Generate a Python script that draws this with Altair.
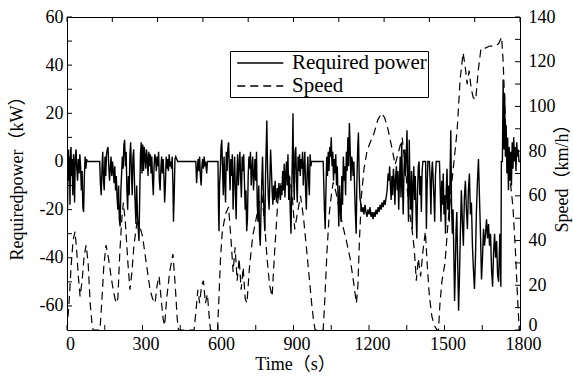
import altair as alt
import pandas as pd

# ---- data ----
power_time = [
    0, 2, 4, 6, 8, 10, 12, 14, 16, 18, 20, 23, 26, 28, 30, 33, 36, 39, 42, 45, 48, 51, 54, 57, 60, 63, 66, 69, 72, 75, 78, 80, 130,
    133, 136, 139, 142, 145, 148, 151, 154, 157, 160, 163, 166, 169, 172, 175, 178, 181, 184, 187, 190, 193, 196, 199, 202, 205, 208,
    211, 214, 217, 220, 223, 226, 229, 232, 235, 238, 241, 244, 247, 250, 253, 256, 259, 262, 265, 268, 271, 274, 277, 280, 283, 286,
    289, 292, 295, 298,
    301, 304, 307, 310, 313, 316, 319, 322, 325, 328, 331, 334, 337, 340, 343, 346, 349, 352, 355, 358, 361, 364, 367, 370, 373, 376,
    379, 382, 385, 388, 391, 394, 397, 400, 403, 406, 409, 412, 415, 418, 421, 423, 426, 429, 432, 436, 440,
    512, 515, 518, 521, 524, 527, 530, 533, 536, 539, 542, 545, 548, 551, 555, 558, 598,
    600, 602, 604, 606, 609, 612, 615, 618, 621, 624, 627, 630, 633, 636, 639, 642, 645, 648, 651, 654, 657, 660, 663, 666, 669, 672,
    675, 678, 681, 684, 687, 690, 693, 696, 699, 702, 705, 708, 711, 714, 717, 720, 723, 726, 729, 732, 735, 738, 741, 744, 747, 750,
    753, 756, 759, 762, 765, 768, 771, 774, 777, 780, 783, 786, 789, 792, 794, 797, 800, 803, 806, 809, 812, 815,
    818, 821, 824, 827, 830, 833, 836, 839, 842, 845, 848, 851, 854, 857, 860, 863, 866, 869, 872, 875, 878, 881, 884, 887, 890, 893,
    896, 898, 900,
    903, 906, 909, 912, 915, 918, 921, 924, 927, 930, 933, 936, 939, 942, 945, 948, 951, 954, 957, 960, 963, 966, 969, 972, 1018,
    1020, 1023, 1026, 1029, 1032, 1035, 1038, 1041, 1044, 1047, 1050, 1053, 1056, 1059, 1062, 1065, 1068, 1071, 1074, 1077, 1080,
    1083, 1086, 1089, 1092, 1095, 1098, 1101, 1104, 1107, 1110, 1113, 1116, 1119, 1122, 1125, 1128, 1131, 1134, 1137, 1140, 1143,
    1146, 1149, 1152, 1155, 1158, 1161, 1164,
    1168, 1172, 1176, 1180, 1184, 1188, 1192, 1196, 1200, 1204, 1208, 1212, 1216, 1220, 1224, 1228, 1232, 1236, 1240, 1244, 1248,
    1252, 1256, 1260, 1264, 1268, 1272, 1276, 1279, 1282,
    1285, 1288, 1291, 1294, 1297, 1300, 1303, 1306, 1309, 1312, 1315, 1318, 1321, 1324, 1327, 1330, 1333, 1336, 1339, 1342, 1345,
    1348, 1351, 1354, 1357, 1360, 1363, 1366, 1369, 1372, 1375, 1378, 1381, 1384, 1387, 1390, 1393, 1396, 1399, 1402, 1405, 1408,
    1411, 1414, 1425, 1428, 1431, 1434, 1440, 1443, 1446, 1449, 1452, 1458, 1461, 1464, 1467, 1480,
    1483, 1486, 1489, 1492, 1495, 1498, 1501, 1504, 1507, 1510, 1513, 1516, 1519, 1522, 1525, 1528, 1531, 1534, 1537, 1540, 1543,
    1546, 1549, 1552, 1556, 1559,
    1563, 1567, 1571, 1575, 1579, 1583, 1587, 1591, 1595, 1599, 1603, 1607, 1611, 1615, 1619, 1623, 1627, 1631, 1635, 1639, 1643,
    1647, 1651, 1655, 1659, 1663, 1667, 1671, 1675, 1679, 1683, 1687, 1691, 1695, 1699, 1703, 1707, 1711, 1715, 1720, 1724,
    1726, 1730, 1733, 1736, 1739, 1742, 1745, 1748, 1751, 1754, 1757, 1760, 1763, 1766, 1769, 1772, 1775, 1778, 1781, 1784, 1787,
    1790, 1793, 1796, 1800,
]
power_kw = [
    0, -20, -3, 5, -8, 2, -18, 4, 6, -6, 1, -14, 3, -4, -17, 2, 5, -3, -8, 1, -5, 3, -2, -12, -4, -19, -21, -6, 2, -3, 1, 0, 0,
    -10, -14, -3, 4, -8, -12, 2, -6, 3, 5, 6, -2, -8, -3, 2, -6, 0, -4, -9, -2, -12, -6, -15, -20, -10, -24,
    -27, -12, -5, 2, -3, 7, 9, -2, 4, -12, -20, -6, -14, 3, 8, -4, -14, 2, 5, -8, -18, -26, -10, -22, -28, -33,
    -14, 3, 8, -5,
    7, -4, 6, 2, -3, 5, 1, -6, 4, -2, 3, -5, 2, -8, -14, -2, 3, 1, -4, 2, -2, 4, -8, -12, -3, 2,
    -5, 1, -6, -17, -10, 2, -3, 1, -4, 3, -2, 0, -3, 2, -10, -25, -14, 1, 2, 1, 0,
    0, -9, -3, 1, -4, 2, -6, -10, -2, 1, -3, 2, -2, 0, -5, 0, 0,
    0, -20, -29, -10, -4, 6, 9, -3, -14, 2, -8, -17, 4, -4, 5, 8, -2, -12, 1, -6, 3, -20, -8, 2, -12, -24,
    -6, 3, -10, -2, 4, -7, -15, 2, -4, 3, -8, -20, -12, -29, -24, -6, 2, -3, 4, -10, -3, 2, -12, -6, 1, -8,
    4, -18, -25, -10, -30, -35, -20, -8, 2, -12, -22, -29, -5, 8, 17, -4, -15, -20, -8, 5, -3, -12,
    -18, -10, -16, -8, -14, -17, -11, -15, -9, -13, -16, -10, -14, -4, -12, -1, -15, -6, 0, -10, 3, -16, -6, -20, -30, -12,
    5, 20, -5,
    -16, 4, 6, -8, -17, 2, -4, 3, -6, 1, -3, 4, -10, -2, 4, -12, -20, -5, 2, -8, -14, 3, -2, 0, 0,
    -8, -20, -28, -12, 2, -6, 4, -4, 6, 2, 10, -2, 4, -8, 1, -5, 3, -10, -2, -15, -27,
    -10, -20, -25, -6, -18, 2, -8, -2, -14, 4, -4, 10, -2, 16, 6, -8, 2, 0, -6, 0, -12,
    -22, -30, -8, 5, 12, -6, -15,
    -18, -21, -19, -22, -18, -21, -23, -20, -22, -19, -23, -21, -24, -21, -23, -20, -22, -19, -21, -18, -20,
    -17, -19, -16, -18, -15, -12, -5, -8, -2,
    -10, -16, -6, -14, -3, -8, -18, -6, -2, -12, -4, -20, -8, 2, -15, 8, -10, -22, -4, 5, -6,
    2, 13, -8, -25, 9, -12, -20, -4, -28, -10, -2, -16, -6, -22, -32, -12, -2, 0, -14, -6, -21,
    -4, 0, 0, -28, -10, 0, 0, -8, -22, -5, 0, -15, -25, -6, 0, 0,
    -12, -25, -8, -18, -5, -22, -14, -30, -12, -3, -20, -10, -25, -6, 13, -18, -30, -20, -38, -58, -45,
    -28, -21, -40, -62, -50,
    -30, -12, -25, -35, -15, -8, -20, -28, -12, -5, -22, -17, -35, -45, -53, -40, -20, -8, 1, -15, -30,
    -49, -40, -28, -35, -30, -24, -32, -26, -35, -30, -45, -52, -38, -30, -40, -33, -47, -50, -30, -52,
    0, 0, 34, 5, 28, 2, 15, -5, 10, -12, 6, -8, 4, -10, 8, -3, 10, 0, 6, -4, 8,
    2, 5, 0, 0,
]
speed_time = [
    0, 8, 16, 24, 32, 38, 45, 52, 60, 68, 76, 84, 92, 100, 104, 131, 138, 146, 155, 165, 175, 185, 195, 202, 210, 218, 224,
    232, 242, 250, 258, 266, 278, 290, 300, 310, 320, 330, 340, 350, 358, 366, 374, 382, 388, 396, 408, 421, 430, 438, 443,
    505, 512, 520, 527, 535, 542, 550, 558, 565, 570, 598, 604, 610, 617, 630, 642, 652, 660, 668, 676, 684, 692, 700, 708,
    715, 725, 738, 752, 765, 775, 785, 795, 805, 815, 825, 838, 855, 872, 885, 895, 905, 915, 928, 940, 952, 962, 972, 980,
    986, 1018, 1025, 1033, 1042, 1052, 1058, 1068, 1080, 1095, 1110, 1125, 1138, 1150, 1156, 1162, 1170, 1180, 1192, 1205,
    1220, 1235, 1250, 1262, 1275, 1290, 1304, 1318, 1332, 1345, 1358, 1370, 1380, 1388, 1396, 1405, 1415, 1424, 1432, 1440,
    1450, 1460, 1470, 1476, 1482, 1490, 1502, 1514, 1530, 1550, 1562, 1574, 1582, 1590, 1598, 1606, 1614, 1624, 1634, 1645,
    1660, 1680, 1700, 1715, 1727, 1733, 1740, 1748, 1760, 1772, 1782, 1790, 1797,
]
speed_kmh = [
    0, 12, 28, 40, 44, 36, 24, 15, 22, 33, 38, 30, 12, 2, 0, 0, 12, 28, 38, 32, 24, 17, 12, 14, 35, 50, 57,
    48, 30, 18, 26, 38, 48, 46, 42, 34, 26, 18, 14, 12, 20, 24, 14, 5, 2, 14, 26, 34, 20, 5, 0,
    0, 8, 18, 12, 20, 22, 12, 16, 6, 0, 0, 15, 32, 44, 52, 55, 40, 26, 37, 22, 32, 18, 28, 14,
    12, 28, 42, 50, 58, 60, 48, 32, 20, 15, 35, 58, 68, 72, 68, 60, 45, 52, 60, 50, 36, 24, 12, 4,
    0, 0, 15, 35, 52, 62, 66, 62, 55, 47, 40, 32, 22, 12, 20, 40, 60, 72, 80, 84,
    88, 94, 97, 95, 90, 82, 74, 80, 86, 72, 55, 46, 36, 22, 32, 24, 36, 44, 28, 15,
    6, 2, 0, 0, 12, 22, 30, 48, 67, 89, 112, 124, 118, 110, 116, 108, 104, 103, 116, 126,
    126, 127, 127, 128, 131, 120, 100, 75, 68, 55, 35, 15, 0,
]
series_names = ["Required power", "Speed"]
x_tick_values = [0, 150, 300, 450, 600, 750, 900, 1050, 1200, 1350, 1500, 1650, 1800]
x_label_values = [0, 300, 600, 900, 1200, 1500, 1800]
top_tick_values = [0, 180, 360, 540, 720, 900, 1080, 1260, 1440, 1620, 1800]
left_tick_values = [-60, -50, -40, -30, -20, -10, 0, 10, 20, 30, 40, 50, 60]
left_label_values = [-60, -40, -20, 0, 20, 40, 60]
right_tick_values = [0, 10, 20, 30, 40, 50, 60, 70, 80, 90, 100, 110, 120, 130, 140]
right_label_values = [0, 20, 40, 60, 80, 100, 120, 140]

# ---- layout ----
W, H = 453, 313
FONT = "Liberation Serif, Times New Roman, Noto Sans CJK SC, serif"
TICK = 5

power_df = pd.DataFrame({"t": power_time, "p": power_kw})
speed_df = pd.DataFrame({"t": speed_time, "v": speed_kmh})

xscale = alt.Scale(domain=[0, 1800], nice=False, zero=False)
pscale = alt.Scale(domain=[-70, 60], nice=False, zero=False)
vscale = alt.Scale(domain=[0, 140], nice=False, zero=False)
dash_scale = alt.Scale(domain=series_names, range=[[1, 0], [8, 5]])

x_axis = alt.Axis(
    values=x_label_values, format="d", ticks=False, tickSize=0, domain=False, grid=False, labelFlush=False,
    labelFont=FONT, labelFontSize=18, labelColor="black", labelPadding=5, labelOffset=3,
    title="Time（s）", titleFont=FONT, titleFontSize=18, titleFontWeight="normal", titleColor="black",
    titleX=228, titleY=39, titleBaseline="alphabetic", titleAlign="center",
)
left_axis = alt.Axis(
    values=left_label_values, ticks=False, tickSize=0, domain=False, grid=False,
    labelExpr="datum.value < 0 ? '-' + abs(datum.value) : '' + datum.value",
    labelFont=FONT, labelFontSize=18, labelColor="black", labelPadding=4,
    title="Requiredpower（kW）", titleFont=FONT, titleFontSize=18, titleFontWeight="normal", titleColor="black",
    titleX=-50, titleY=H / 2, titleAngle=270, titleAlign="center", titleBaseline="middle",
)
right_axis = alt.Axis(
    orient="right", values=right_label_values, format="d", ticks=False, tickSize=0, domain=False, grid=False,
    labelFont=FONT, labelFontSize=18, labelColor="black", labelPadding=8,
    labelOffset={"condition": {"test": "datum.value === 0", "value": -5}, "value": 0},
    title="Speed（km/h）", titleFont=FONT, titleFontSize=18, titleFontWeight="normal", titleColor="black",
    titleX=42, titleY=H / 2, titleAngle=270, titleAlign="center", titleBaseline="middle",
)

legend = alt.Legend(
    title=None, orient="none", legendX=163, legendY=34, direction="vertical",
    symbolType="M-0.475,0H4.125", symbolSize=400, symbolStrokeWidth=1.5, symbolStrokeColor="black",
    labelFont=FONT, labelFontSize=21, labelColor="black", labelOffset=39,
    padding=1, strokeColor="black", fillColor="white", rowPadding=2, cornerRadius=0,
)

power_line = alt.Chart(power_df).mark_line(color="black", strokeWidth=1.4, clip=True).encode(
    x=alt.X("t:Q", scale=xscale, axis=x_axis),
    y=alt.Y("p:Q", scale=pscale, axis=left_axis),
    strokeDash=alt.StrokeDash("s:N", scale=dash_scale, legend=legend),
).transform_calculate(s="'Required power'")

left_ticks = alt.Chart(pd.DataFrame({"y": left_tick_values})).mark_rule(color="black", strokeWidth=1).encode(
    y=alt.Y("y:Q", scale=pscale, axis=left_axis), x=alt.value(0), x2=alt.value(TICK))
bottom_ticks = alt.Chart(pd.DataFrame({"x": x_tick_values})).mark_rule(color="black", strokeWidth=1).encode(
    x=alt.X("x:Q", scale=xscale, axis=x_axis), y=alt.value(H), y2=alt.value(H - TICK))
top_ticks = alt.Chart(pd.DataFrame({"x": top_tick_values})).mark_rule(color="black", strokeWidth=1).encode(
    x=alt.X("x:Q", scale=xscale, axis=x_axis), y=alt.value(0), y2=alt.value(TICK))

speed_line = alt.Chart(speed_df).mark_line(color="black", strokeWidth=1.2, clip=True).encode(
    x=alt.X("t:Q", scale=xscale, axis=x_axis),
    y=alt.Y("v:Q", scale=vscale, axis=right_axis),
    strokeDash=alt.StrokeDash("s:N", scale=dash_scale, legend=legend),
).transform_calculate(s="'Speed'")

right_ticks = alt.Chart(pd.DataFrame({"y": right_tick_values})).mark_rule(color="black", strokeWidth=1).encode(
    y=alt.Y("y:Q", scale=vscale, axis=right_axis), x=alt.value(W - TICK), x2=alt.value(W))

power_group = alt.layer(power_line, left_ticks, bottom_ticks, top_ticks)
speed_group = alt.layer(speed_line, right_ticks)

chart = alt.layer(power_group, speed_group).resolve_scale(y="independent").properties(
    width=W, height=H,
    autosize=alt.AutoSizeParams(type="none"),
    padding={"left": 67, "top": 17, "right": 53, "bottom": 46},
    background="white",
).configure_view(stroke="black", strokeWidth=1)

chart.save("out.html", embed_options={"renderer": "svg", "actions": False})
